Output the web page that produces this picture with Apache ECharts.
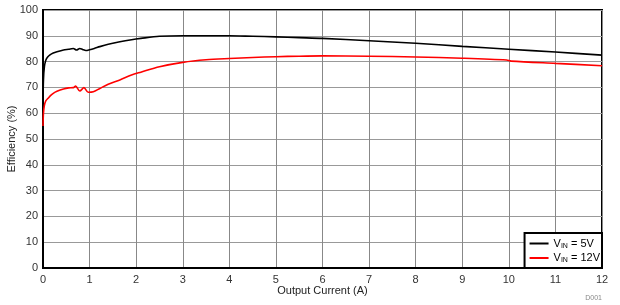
<!DOCTYPE html>
<html><head><meta charset="utf-8">
<script src="https://cdn.jsdelivr.net/npm/echarts@6/dist/echarts.min.js"></script>
<style>html,body{margin:0;padding:0;background:#fff}#c{width:620px;height:305px}</style>
</head><body><div id="c"></div>
<script>
var xTicks = [0,1,2,3,4,5,6,7,8,9,10,11,12];
var yTicks = [0,10,20,30,40,50,60,70,80,90,100];
var current5V = [0,0.01,0.03,0.06,0.1,0.15,0.22,0.3,0.44,0.55,0.65,0.72,0.79,0.85,0.92,1.0,1.1,1.22,1.4,1.65,1.9,2.1,2.5,3.0,3.5,4.0,4.5,5.0,5.5,6.0,7.0,8.0,9.0,10.0,11.0,12.0];
var eff5V = [64,73,78,80.5,81.8,82.6,83.3,83.8,84.5,84.8,85.1,84.5,85.1,84.7,84.3,84.6,85.1,85.8,86.7,87.7,88.5,89.0,89.8,90.0,90.0,90.0,89.8,89.6,89.3,89.0,88.1,87.1,85.9,84.8,83.7,82.5];
var current12V = [0,0.01,0.03,0.06,0.11,0.16,0.22,0.3,0.44,0.55,0.65,0.7,0.79,0.88,0.97,1.08,1.22,1.4,1.65,1.9,2.1,2.5,3.0,3.5,4.0,4.5,5.0,5.5,6.0,7.0,8.0,9.0,9.95,10.05,11.0,12.0];
var eff12V = [55,60,63,64.8,65.8,66.8,67.7,68.5,69.4,69.8,69.9,70.5,68.6,69.9,68.1,68.3,69.6,71.2,72.9,74.8,75.9,78.0,79.7,80.7,81.2,81.6,81.9,82.1,82.2,82.1,81.8,81.3,80.6,80.2,79.3,78.4];
var legend5V = '{a|V}{s|IN}{a| = 5V}';
var legend12V = '{a|V}{s|IN}{a| = 12V}';

function pairs(xs, ys){ return xs.map(function(x,i){ return [x, ys[i]]; }); }

var chart = echarts.init(document.getElementById('c'), null, {renderer:'canvas'});
var font = 'Liberation Sans, Arial, sans-serif';
chart.setOption({
  animation:false,
  backgroundColor:'#fff',
  textStyle:{fontFamily:font},
  grid:{left:43, right:18, top:10, bottom:37, containLabel:false, outerBoundsMode:'none',
    show:true, borderColor:'#000', borderWidth:2, backgroundColor:'transparent'},
  xAxis:{type:'value', min:0, max:12, interval:1,
    name:'Output Current (A)', nameLocation:'middle', nameGap:17, nameMoveOverlap:false,
    nameTextStyle:{color:'#222', fontSize:11, fontFamily:font},
    axisLine:{show:true, lineStyle:{color:'#000', width:2}},
    axisTick:{show:false},
    axisLabel:{color:'#333', fontSize:11, fontFamily:font, margin:6, formatter:function(v){return xTicks.indexOf(v)>=0?String(v):'';}},
    splitLine:{show:true, lineStyle:{color:'#888', width:1}}},
  yAxis:{type:'value', min:0, max:100, interval:10,
    name:'Efficiency (%)', nameLocation:'middle', nameGap:26, nameRotate:90, nameMoveOverlap:false,
    nameTextStyle:{color:'#222', fontSize:11, fontFamily:font},
    axisLine:{show:true, lineStyle:{color:'#000', width:2}},
    axisTick:{show:false},
    axisLabel:{color:'#333', fontSize:11, fontFamily:font, margin:5, formatter:function(v){return yTicks.indexOf(v)>=0?String(v):'';}},
    splitLine:{show:true, lineStyle:{color:'#999', width:1}}},
  legend:{orient:'vertical', right:18, bottom:37, padding:[5,2,4,5], itemGap:3,
    backgroundColor:'#fff', borderColor:'#000', borderWidth:2, borderRadius:0,
    icon:'rect', itemWidth:19, itemHeight:2,
    textStyle:{fontFamily:font, color:'#000', rich:{
      a:{fontSize:11, fontFamily:font, color:'#000'},
      s:{fontSize:7, fontFamily:font, color:'#000', padding:[5,0,0,0]}
    }},
    formatter:function(n){ return n; },
    data:[legend5V, legend12V]},
  series:[
    {name:legend5V, type:'line', data:pairs(current5V, eff5V), showSymbol:false, smooth:0.3,
     lineStyle:{color:'#000', width:1.6}, itemStyle:{color:'#000'}},
    {name:legend12V, type:'line', data:pairs(current12V, eff12V), showSymbol:false, smooth:0.3,
     lineStyle:{color:'#ff0000', width:1.6}, itemStyle:{color:'#ff0000'}}
  ],
  graphic:[{type:'text', right:18, bottom:3, style:{text:'D001', fontSize:7, fill:'#888', fontFamily:font}}]
});
</script></body></html>
